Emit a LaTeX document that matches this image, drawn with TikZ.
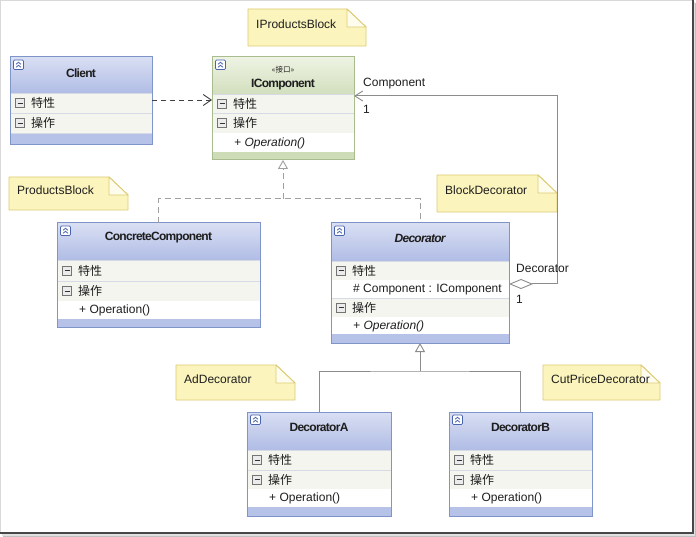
\documentclass[tikz,border=0pt]{standalone}
\usepackage{fontspec}
\setmainfont{Liberation Sans}
\newfontfamily\cjk{Noto Sans CJK SC}
\newfontfamily\titlefont[LetterSpace=-6]{Liberation Sans}
\usetikzlibrary{arrows.meta}

\definecolor{bBorder}{HTML}{7F94C9}
\definecolor{bTop}{HTML}{D9DFF3}
\definecolor{bBot}{HTML}{B0BCE5}
\definecolor{bBand}{HTML}{B6C2E8}
\definecolor{gBorder}{HTML}{A9BC8D}
\definecolor{gTop}{HTML}{EEF3E3}
\definecolor{gBot}{HTML}{D2DFBE}
\definecolor{gBand}{HTML}{CEDCB7}
\definecolor{rowBg}{HTML}{F3F5EE}
\definecolor{sepC}{HTML}{D5DAE4}
\definecolor{noteFill}{HTML}{FBF4BC}
\definecolor{noteFoldFill}{HTML}{FEFCEC}
\definecolor{noteLine}{HTML}{DCCB73}
\definecolor{txt}{HTML}{1E1E1E}
\definecolor{dashC}{HTML}{A0A0A0}
\definecolor{lineC}{HTML}{8C8C8C}
\definecolor{depC}{HTML}{404040}
\definecolor{iconC}{HTML}{4A64AE}

\tikzset{
  cjktext/.style={anchor=west, inner sep=0pt, font=\cjk\fontsize{12}{14}\selectfont, text=txt},
  memtext/.style={anchor=west, inner sep=0pt, font=\fontsize{12}{14}\selectfont, text=txt},
  titletext/.style={inner sep=0pt, font=\titlefont\bfseries\fontsize{12}{14}\selectfont, text=txt},
  stereo/.style={inner sep=0pt, font=\cjk\fontsize{7.5}{9}\selectfont, text=txt},
  lbl/.style={anchor=west, inner sep=0pt, font=\fontsize{12}{14}\selectfont, text=txt},
  notebody/.style={draw=noteLine, fill=noteFill, line width=0.9pt, line join=round},
  notefold/.style={draw=noteLine, fill=noteFoldFill, line width=0.9pt, line join=round},
  notetext/.style={anchor=west, inner sep=0pt, font=\fontsize{12}{14}\selectfont, text=txt},
  sepline/.style={draw=sepC, line width=0.8pt},
  minusbox/.style={draw=black!55, fill=black!8, line width=0.6pt},
  minusbar/.style={draw=black!80, line width=0.9pt},
  iconbox/.style={draw=iconC, fill=white, line width=0.7pt, rounded corners=1.2pt},
  chev/.style={draw=iconC, line width=0.8pt},
  depline/.style={draw=depC, line width=0.9pt, dash pattern=on 5pt off 4pt},
  gendash/.style={draw=dashC, line width=1pt, dash pattern=on 6pt off 4pt},
  genline/.style={draw=lineC, line width=1pt},
  assocline/.style={draw=lineC, line width=1pt},
  gentip/.style={-{Triangle[open,length=9pt,width=10pt,line width=0.9pt]}},
}

% #1 name #2 x1 #3 y1 #4 x2 #5 y2 #6 header bottom #7 scheme #8 title #9 title offset
\newcommand\umlclass[9]{%
  \shade[top color=#7Top, bottom color=#7Bot] (#2,#3) rectangle (#4,#6);
  \fill[#7Band] (#2,#6) rectangle (#4,#5);
  \node[draw=#7Border, line width=1pt, inner sep=0pt, outer sep=0pt, anchor=north west,
        minimum width={#4pt-#2pt}, minimum height={#5pt-#3pt}] (#1) at (#2,#3) {};
  \draw[iconbox] ({#2+3.5},{#3+3}) rectangle ({#2+13.5},{#3+12.5});
  \draw[chev] ({#2+6},{#3+7.3}) -- ({#2+8.5},{#3+5.3}) -- ({#2+11},{#3+7.3});
  \draw[chev] ({#2+6},{#3+10.3}) -- ({#2+8.5},{#3+8.3}) -- ({#2+11},{#3+10.3});
  \node[titletext] (#1-t) at ({(#2+#4)/2},{#3+#9}) {#8};
}
% section row: #1 name #2 x1 #3 y1 #4 x2 #5 y2 #6 label
\newcommand\secrow[6]{%
  \fill[rowBg] ({#2+0.5},#3) rectangle ({#4-0.5},#5);
  \draw[sepline] ({#2+0.5},#3) -- ({#4-0.5},#3);
  \draw[sepline] ({#2+0.5},#5) -- ({#4-0.5},#5);
  \draw[minusbox] ({#2+5.5},{(#3+#5)/2-4.5}) rectangle ({#2+14.5},{(#3+#5)/2+4.5});
  \draw[minusbar] ({#2+7.5},{(#3+#5)/2}) -- ({#2+12.5},{(#3+#5)/2});
  \node[cjktext] (#1) at ({#2+21},{(#3+#5)/2}) {#6};
}
% member row
\newcommand\memrow[6]{%
  \fill[white] ({#2+0.5},#3) rectangle ({#4-0.5},#5);
  \node[memtext] (#1) at ({#2+22},{(#3+#5)/2+0.5}) {#6};
}
% note: #1 name #2 x1 #3 y1 #4 x2 #5 y2 #6 text
\newcommand\umlnote[6]{%
  \draw[notebody] (#2,#3) -- ({#4-19},#3) -- (#4,{#3+18}) -- (#4,#5) -- (#2,#5) -- cycle;
  \draw[notefold] ({#4-19},#3) -- ({#4-19},{#3+18}) -- (#4,{#3+18}) -- cycle;
  \node[notetext] (#1) at ({#2+8},{(#3+#5)/2-3}) {#6};
}

\begin{document}
\begin{tikzpicture}[x=1pt,y=-1pt]
\useasboundingbox (0,0) rectangle (696,537);
\fill[white] (0,0) rectangle (696,537);
% picture frame with shadow
\fill[black!25] (3,3) rectangle (696,537);
\fill[black!12] (2,2) rectangle (695,536);
\fill[white] (0,0) rectangle (693,533);
\draw[black!15, line width=0.8pt] (0.4,533) -- (0.4,0.4) -- (693,0.4);
\draw[black!72, line width=1.4pt] (0,533) -- (693,533) -- (693,0);

% notes
\umlnote{n1}{248}{9}{366}{46}{IProductsBlock}
\umlnote{n2}{9}{177}{128}{210}{ProductsBlock}
\umlnote{n3}{437}{175}{557}{212}{BlockDecorator}
\umlnote{n4}{176}{365}{295}{400}{AdDecorator}
\umlnote{n5}{543}{365}{660}{400}{CutPriceDecorator}

% Client
\umlclass{client}{10}{57}{152}{145}{93}{b}{Client}{16}
\secrow{client-a}{10}{93}{152}{113}{特性}
\secrow{client-o}{10}{113}{152}{133}{操作}

% IComponent
\umlclass{icomp}{212}{57}{354}{160}{94}{g}{IComponent}{28}
\node[stereo] (icomp-st) at (283,70) {«接口»};
\secrow{icomp-a}{212}{94}{354}{113}{特性}
\secrow{icomp-o}{212}{113}{354}{133}{操作}
\memrow{icomp-m}{212}{133}{354}{152}{\textit{+ Operation()}}

% ConcreteComponent
\umlclass{cc}{57}{223}{260}{327}{260}{b}{ConcreteComponent}{15}
\secrow{cc-a}{57}{260}{260}{281}{特性}
\secrow{cc-o}{57}{281}{260}{301}{操作}
\memrow{cc-m}{57}{301}{260}{319}{+ Operation()}

% Decorator
\umlclass{dec}{331}{223}{509}{343}{261}{b}{\textit{Decorator}}{15}
\secrow{dec-a}{331}{261}{509}{280}{特性}
\memrow{dec-f}{331}{280}{509}{298}{\# Component : IComponent}
\secrow{dec-o}{331}{298}{509}{317}{操作}
\memrow{dec-m}{331}{317}{509}{334}{\textit{+ Operation()}}

% DecoratorA
\umlclass{da}{247}{412}{391}{516}{450}{b}{DecoratorA}{15}
\secrow{da-a}{247}{450}{391}{470}{特性}
\secrow{da-o}{247}{470}{391}{489}{操作}
\memrow{da-m}{247}{489}{391}{507}{+ Operation()}

% DecoratorB
\umlclass{db}{449}{412}{592}{516}{450}{b}{DecoratorB}{15}
\secrow{db-a}{449}{450}{592}{470}{特性}
\secrow{db-o}{449}{470}{592}{489}{操作}
\memrow{db-m}{449}{489}{592}{507}{+ Operation()}

% Client -> IComponent dependency
\draw[depline, -{Straight Barb[length=8pt,width=11pt,line width=0.9pt]}]
  (client.east |- 0,100) -- (icomp.west |- 0,100);

% realization to IComponent
\coordinate (j1) at (283,199);
\draw[gendash] (cc.north) |- (j1) -| (dec.north);
\draw[gendash, gentip] (j1) -- (icomp.south);

% aggregation Decorator -> IComponent
\coordinate (a1) at (557,284);
\coordinate (a2) at (557,96);
\draw[assocline, {Diamond[open,length=24pt,width=10pt,line width=0.9pt]}-{Straight Barb[length=8pt,width=10pt,line width=0.9pt]}]
  (dec.east |- a1) -- (a1) -- (a2) -- (icomp.east |- a2);
\node[lbl] (lc) at (363,84) {Component};
\node[lbl] (l1) at (363,109) {1};
\node[lbl] (ld) at (516,268) {Decorator};
\node[lbl] (l2) at (516,299) {1};

% generalization DecoratorA/B -> Decorator
\coordinate (j2) at (420,371);
\draw[genline] (da.north) |- (j2) -| (db.north);
\draw[genline, gentip] (j2) -- (dec.south);
\end{tikzpicture}
\end{document}
